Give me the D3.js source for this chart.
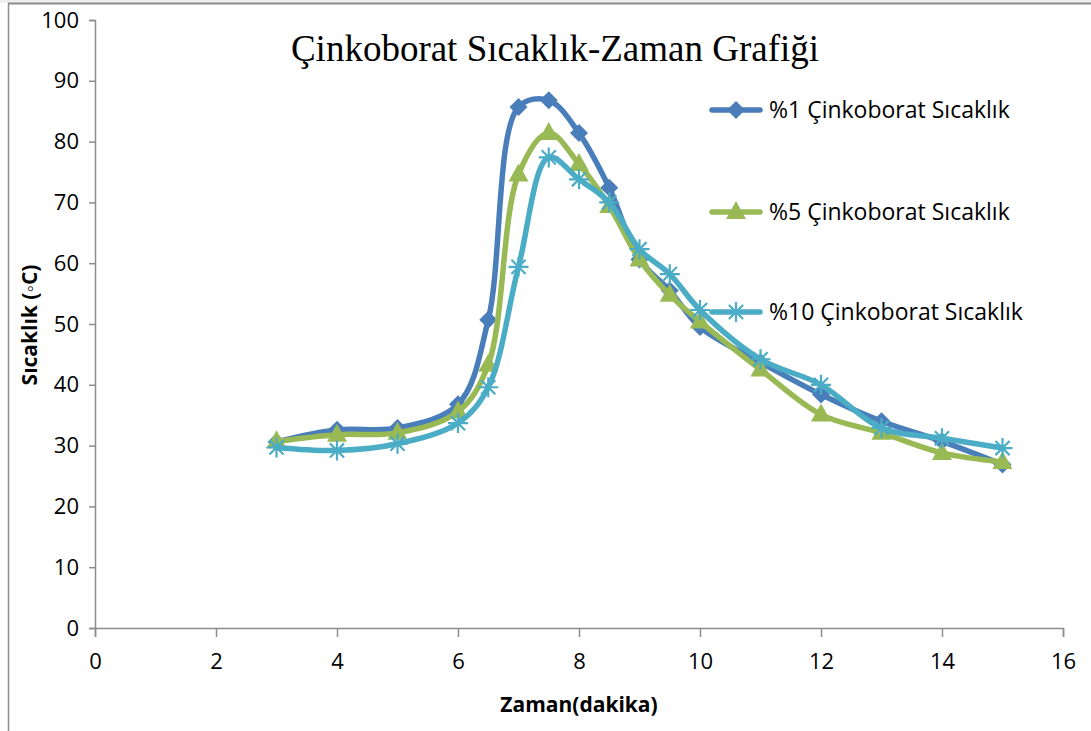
<!DOCTYPE html>
<html>
<head>
<meta charset="utf-8">
<script src="https://cdn.jsdelivr.net/npm/d3@7"></script>
<style>
  body { margin: 0; background: #fff; }
  svg { display: block; }
</style>
</head>
<body>
<svg width="1091" height="731"></svg>
<script>
// zaman (dakika)
const times = [3, 4, 5, 6, 6.5, 7, 7.5, 8, 8.5, 9, 9.5, 10, 11, 12, 13, 14, 15];
// sıcaklık değerleri
const temp1 = [30.6, 32.6, 32.9, 36.8, 50.7, 85.7, 86.8, 81.4, 72.4, 60.6, 55.5, 49.5, 43.7, 38.4, 34.0, 30.7, 26.9];
const temp5 = [30.7, 31.8, 32.1, 35.6, 43.3, 74.6, 81.4, 76.3, 69.4, 60.6, 54.8, 50.4, 42.5, 35.1, 32.1, 28.8, 27.3];
const temp10 = [29.7, 29.2, 30.3, 33.7, 39.6, 59.4, 77.4, 73.8, 70.0, 62.3, 58.2, 52.3, 44.2, 40.0, 32.9, 31.2, 29.6];
const seriesNames = ["%1 Çinkoborat Sıcaklık", "%5 Çinkoborat Sıcaklık", "%10 Çinkoborat Sıcaklık"];
const seriesColors = ["#4a7ebb", "#98b954", "#4bacc6"];
const xTicks = [0, 2, 4, 6, 8, 10, 12, 14, 16];
const yTicks = [0, 10, 20, 30, 40, 50, 60, 70, 80, 90, 100];

const svg = d3.select("svg");

// çerçeve
svg.append("rect").attr("x", 0).attr("y", 0).attr("width", 1091).attr("height", 3).attr("fill", "#eeeeee");
svg.append("line").attr("x1", 8).attr("x2", 1091).attr("y1", 3.5).attr("y2", 3.5).attr("stroke", "#8c8c8c").attr("stroke-width", 2);
svg.append("line").attr("x1", 8.5).attr("x2", 8.5).attr("y1", 3).attr("y2", 731).attr("stroke", "#8c8c8c").attr("stroke-width", 1.5);

const x = d3.scaleLinear().domain([0, 16]).range([95, 1063]);
const y = d3.scaleLinear().domain([0, 100]).range([628, 20]);

// eksenler
const xAxis = svg.append("g").attr("transform", "translate(0,628)")
  .call(d3.axisBottom(x).tickValues(xTicks).tickSize(9).tickPadding(16));
const yAxis = svg.append("g").attr("transform", "translate(95,0)")
  .call(d3.axisLeft(y).tickValues(yTicks).tickSize(6).tickPadding(10));

[xAxis, yAxis].forEach((a) => {
  a.select(".domain").attr("stroke", "#8c8c8c").attr("stroke-width", 1.5);
  a.selectAll(".tick line").attr("stroke", "#8c8c8c").attr("stroke-width", 1.5);
  a.selectAll(".tick text").attr("fill", "#000").style("font-family", "'Open Sans', sans-serif").style("font-size", "22px");
});

// başlık
svg.append("text").attr("x", 555).attr("y", 61).attr("text-anchor", "middle")
  .style("font-family", "'Liberation Serif', serif").style("font-size", "37px")
  .text("Çinkoborat Sıcaklık-Zaman Grafiği");

svg.append("text").attr("x", 579).attr("y", 712).attr("text-anchor", "middle")
  .style("font-family", "'Open Sans', sans-serif").style("font-weight", "bold").style("font-size", "21px")
  .text("Zaman(dakika)");

svg.append("text").attr("transform", "translate(37,325) rotate(-90)").attr("text-anchor", "middle")
  .style("font-family", "'Open Sans', sans-serif").style("font-weight", "bold").style("font-size", "21px")
  .text("Sıcaklık (◦C)");

// seriler
const allSeries = [temp1, temp5, temp10].map((vals, i) => ({
  name: seriesNames[i],
  color: seriesColors[i],
  pts: times.map((t, j) => ({ t, v: vals[j] })),
}));

const line = d3.line().x((d) => x(d.t)).y((d) => y(d.v)).curve(d3.curveCatmullRom.alpha(0.5));

const diamond = (g, cx, cy, c) => {
  g.append("path").attr("d", `M${cx},${cy - 9}L${cx + 9},${cy}L${cx},${cy + 9}L${cx - 9},${cy}Z`).attr("fill", c);
};
const triangle = (g, cx, cy, c) => {
  g.append("path").attr("d", `M${cx},${cy - 11}L${cx + 10},${cy + 7}L${cx - 10},${cy + 7}Z`).attr("fill", c);
};
const star = (g, cx, cy, c) => {
  const r = 10;
  const d = [0, 45, 90, 135].map((a) => {
    const rad = (a * Math.PI) / 180;
    const dx = r * Math.cos(rad), dy = r * Math.sin(rad);
    return `M${cx - dx},${cy - dy}L${cx + dx},${cy + dy}`;
  }).join("");
  g.append("path").attr("d", d).attr("stroke", c).attr("stroke-width", 2.2).attr("fill", "none");
};
const markers = [diamond, triangle, star];

allSeries.forEach((s, i) => {
  const g = svg.append("g");
  g.append("path").datum(s.pts).attr("d", line).attr("fill", "none")
    .attr("stroke", s.color).attr("stroke-width", 5.5).attr("stroke-linejoin", "round").attr("stroke-linecap", "round");
  s.pts.forEach((p) => markers[i](g, x(p.t), y(p.v), s.color));
});

// lejant
const legendY = [110, 212, 312];
allSeries.forEach((s, i) => {
  const g = svg.append("g");
  const ly = legendY[i];
  g.append("line").attr("x1", 712).attr("x2", 760).attr("y1", ly).attr("y2", ly)
    .attr("stroke", s.color).attr("stroke-width", 5.5).attr("stroke-linecap", "round");
  markers[i](g, 736, ly, s.color);
  g.append("text").attr("x", 769).attr("y", ly + 8)
    .style("font-family", "'Open Sans', sans-serif").style("font-size", "23px")
    .text(s.name);
});
</script>
</body>
</html>
